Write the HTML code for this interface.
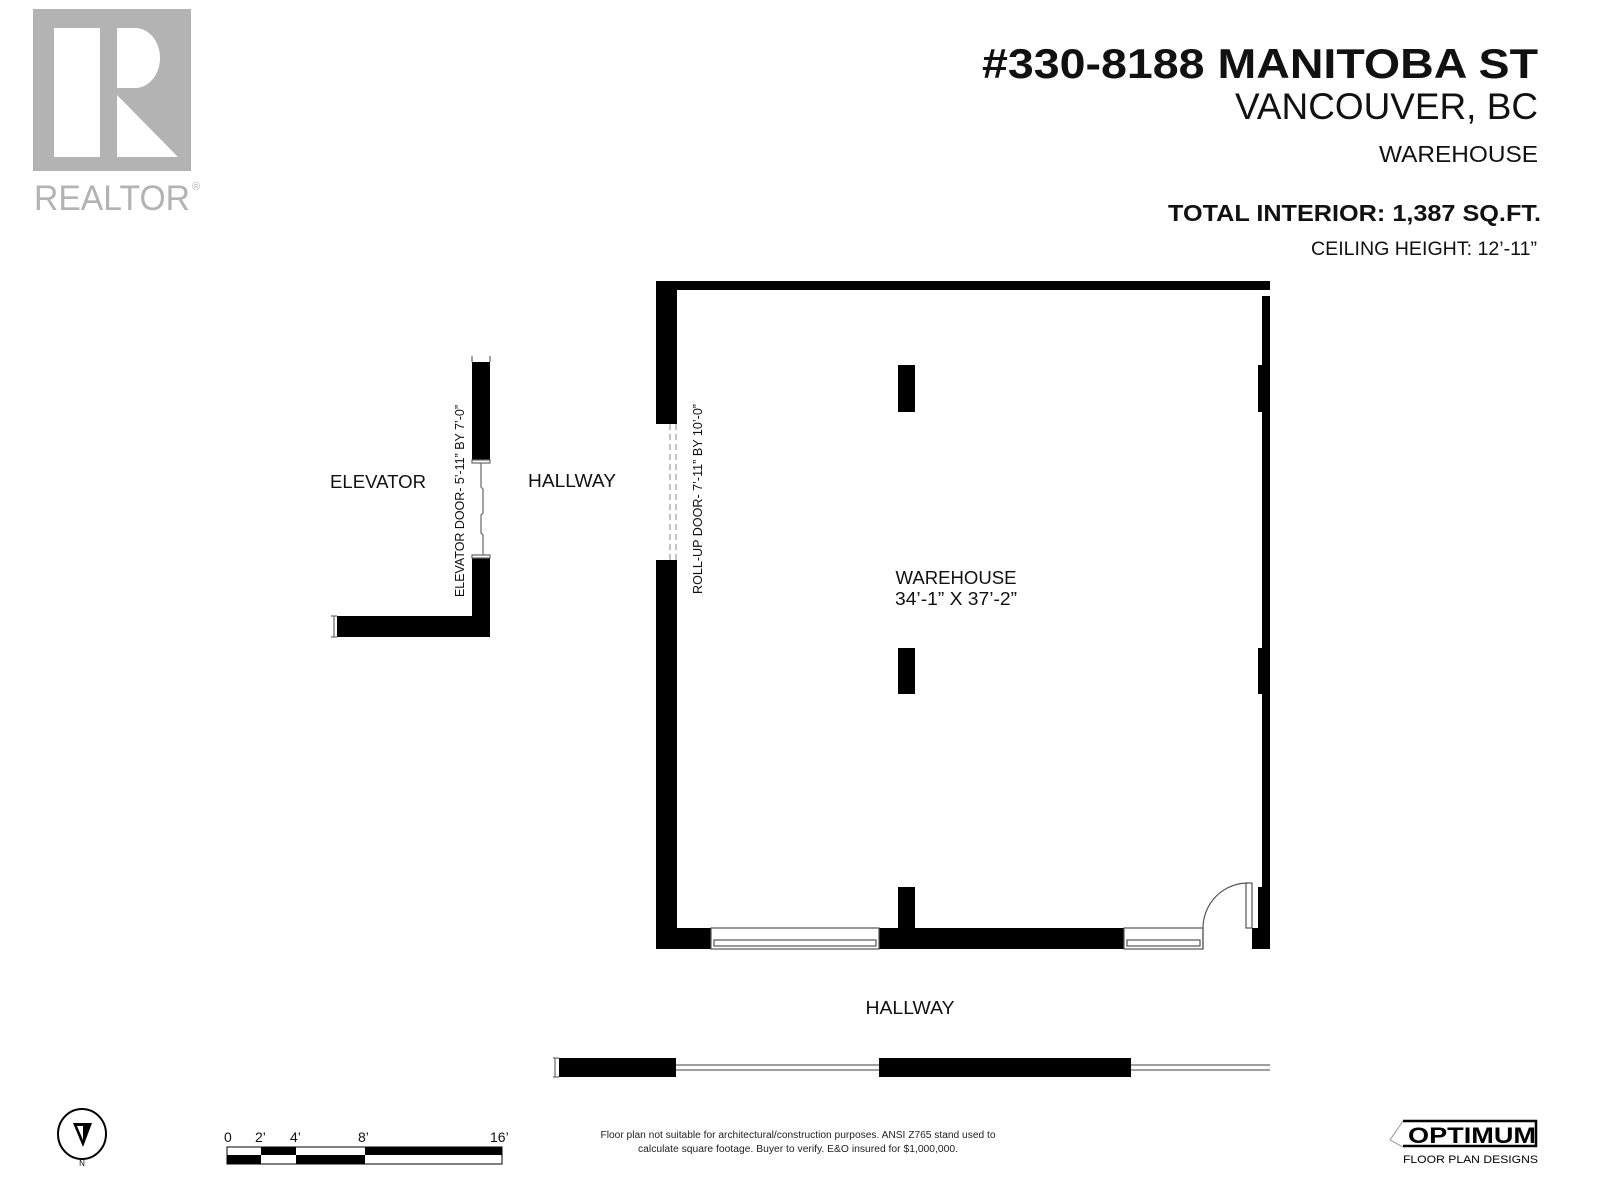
<!DOCTYPE html>
<html><head><meta charset="utf-8"><style>
html,body{margin:0;padding:0;background:#fff;}
svg{display:block;}
text{font-family:"Liberation Sans",sans-serif;}
</style></head><body>
<svg width="1600" height="1200" viewBox="0 0 1600 1200" xmlns="http://www.w3.org/2000/svg">
<!-- Realtor logo -->
<rect x="33" y="9" width="158" height="162" fill="#b3b3b3"/>
<rect x="54" y="28" width="46" height="129" fill="#fff"/>
<path d="M117 28 H135 A25 30 0 0 1 135 88 H117 Z" fill="#fff"/>
<path d="M117 95 L178 157 L117 157 Z" fill="#fff"/>
<text x="34" y="210" font-size="35" fill="#b3b3b3" textLength="156" lengthAdjust="spacingAndGlyphs">REALTOR</text>
<text x="192" y="190" font-size="11" fill="#b3b3b3">®</text>

<!-- Header -->
<text x="1538" y="78" font-size="42" font-weight="bold" text-anchor="end" textLength="556" lengthAdjust="spacingAndGlyphs" fill="#111">#330-8188 MANITOBA ST</text>
<text x="1538" y="119" font-size="37" text-anchor="end" textLength="303" lengthAdjust="spacingAndGlyphs" fill="#111">VANCOUVER, BC</text>
<text x="1538" y="162" font-size="23" text-anchor="end" textLength="159" lengthAdjust="spacingAndGlyphs" fill="#111">WAREHOUSE</text>
<text x="1541" y="221" font-size="23" font-weight="bold" text-anchor="end" textLength="373" lengthAdjust="spacingAndGlyphs" fill="#111">TOTAL INTERIOR:   1,387 SQ.FT.</text>
<text x="1537" y="255" font-size="19" text-anchor="end" textLength="226" lengthAdjust="spacingAndGlyphs" fill="#111">CEILING HEIGHT: 12’-11”</text>

<!-- Main room walls -->
<g fill="#000">
<rect x="656" y="281" width="614" height="9"/>
<rect x="656" y="281" width="21" height="143"/>
<rect x="656" y="560" width="21" height="389"/>
<rect x="1262" y="290" width="8" height="659"/>
<rect x="1258" y="365" width="12" height="47"/>
<rect x="1258" y="648" width="12" height="46"/>
<rect x="1258" y="887" width="12" height="62"/>
<rect x="656" y="928" width="55" height="21"/>
<rect x="879" y="928" width="245" height="21"/>
<rect x="1252" y="928" width="18" height="21"/>
<rect x="898" y="365" width="17" height="47"/>
<rect x="898" y="648" width="17" height="46"/>
<rect x="898" y="887" width="17" height="41"/>
</g>
<rect x="1262" y="290" width="8" height="6" fill="#fff"/>
<!-- roll-up door dashed -->
<g stroke="#888" stroke-width="1" stroke-dasharray="6,4">
<line x1="670" y1="424" x2="670" y2="560"/>
<line x1="676" y1="424" x2="676" y2="560"/>
</g>
<!-- windows bottom -->
<g fill="none" stroke="#555" stroke-width="1.2">
<rect x="711" y="928" width="168" height="21"/>
<rect x="714" y="940" width="162" height="6"/>
<rect x="1124" y="928" width="79" height="21"/>
<rect x="1127" y="940" width="73" height="6"/>
<rect x="1246" y="883" width="6" height="45"/>
<path d="M1203 949 V928 A45 45 0 0 1 1248 883"/>
</g>

<!-- Elevator walls -->
<g fill="#000">
<rect x="472" y="362" width="18" height="98"/>
<rect x="472" y="558" width="18" height="79"/>
<rect x="337" y="616" width="153" height="21"/>
</g>
<g fill="none" stroke="#666" stroke-width="1.2">
<line x1="472" y1="356" x2="472" y2="362"/><line x1="490" y1="356" x2="490" y2="362"/>
<line x1="331" y1="616" x2="337" y2="616"/><line x1="331" y1="637" x2="337" y2="637"/><line x1="334" y1="616" x2="334" y2="637"/>
<rect x="472" y="460" width="18" height="3"/>
<rect x="472" y="555" width="18" height="3"/>
<path d="M481 463 V487 L483 489 V513 L481 515 V533 L483 535 V555"/>
</g>

<!-- Bottom hallway wall -->
<g fill="#000">
<rect x="559" y="1058" width="117" height="19"/>
<rect x="879" y="1058" width="252" height="19"/>
</g>
<g stroke="#666" stroke-width="1.2" fill="none">
<line x1="676" y1="1065" x2="879" y2="1065"/><line x1="676" y1="1070" x2="879" y2="1070"/>
<line x1="1131" y1="1065" x2="1270" y2="1065"/><line x1="1131" y1="1070" x2="1270" y2="1070"/>
<line x1="553" y1="1058" x2="559" y2="1058"/><line x1="553" y1="1077" x2="559" y2="1077"/><line x1="555" y1="1058" x2="555" y2="1077"/>
</g>

<!-- Labels -->
<g fill="#111" font-size="18">
<text x="330" y="488" textLength="96" lengthAdjust="spacingAndGlyphs">ELEVATOR</text>
<text x="528" y="487" textLength="88" lengthAdjust="spacingAndGlyphs">HALLWAY</text>
<text x="956" y="584" text-anchor="middle" textLength="121" lengthAdjust="spacingAndGlyphs">WAREHOUSE</text>
<text x="956" y="605" text-anchor="middle" textLength="122" lengthAdjust="spacingAndGlyphs">34’-1” X 37’-2”</text>
<text x="910" y="1014" text-anchor="middle" textLength="89" lengthAdjust="spacingAndGlyphs">HALLWAY</text>
</g>
<text transform="translate(464,501) rotate(-90)" font-size="12.5" text-anchor="middle" fill="#111" textLength="192" lengthAdjust="spacingAndGlyphs">ELEVATOR DOOR- 5’-11” BY 7’-0”</text>
<text transform="translate(702,499) rotate(-90)" font-size="12.5" text-anchor="middle" fill="#111" textLength="190" lengthAdjust="spacingAndGlyphs">ROLL-UP DOOR- 7’-11” BY 10’-0”</text>

<!-- Compass -->
<ellipse cx="82" cy="1134" rx="24" ry="25" fill="none" stroke="#000" stroke-width="2"/>
<path d="M73 1123 L92 1123 L83 1147 Z" fill="#000"/>
<path d="M77 1126 L83 1126 L83 1140 Z" fill="#fff"/>
<text x="82" y="1166" font-size="8" text-anchor="middle" fill="#000">N</text>

<!-- Scale bar -->
<g font-size="14" fill="#111">
<text x="224" y="1142">0</text><text x="255" y="1142">2’</text><text x="290" y="1142">4’</text><text x="358" y="1142">8’</text><text x="490" y="1142">16’</text>
</g>
<rect x="227" y="1147" width="275" height="17" fill="#fff" stroke="#000" stroke-width="1"/>
<g fill="#000">
<rect x="261" y="1147" width="35" height="8"/><rect x="227" y="1155" width="34" height="9"/>
<rect x="296" y="1155" width="69" height="9"/><rect x="365" y="1147" width="137" height="8"/>
</g>

<!-- Disclaimer -->
<g font-size="10" fill="#222" text-anchor="middle">
<text x="798" y="1138" textLength="395" lengthAdjust="spacingAndGlyphs">Floor plan not suitable for architectural/construction purposes. ANSI Z765 stand used to</text>
<text x="798" y="1152" textLength="320" lengthAdjust="spacingAndGlyphs">calculate square footage. Buyer to verify.  E&amp;O insured for $1,000,000.</text>
</g>

<!-- Optimum logo -->
<g fill="none" stroke="#000" stroke-width="2.5">
<path d="M1403 1121 H1536 V1146 H1403"/>
</g>
<path d="M1403 1121 L1390 1140 L1403 1147" fill="none" stroke="#999" stroke-width="1"/>
<text x="1408" y="1143" font-size="22" font-weight="bold" fill="#000" textLength="128" lengthAdjust="spacingAndGlyphs">OPTIMUM</text>
<text x="1403" y="1163" font-size="11" fill="#000" textLength="135" lengthAdjust="spacingAndGlyphs">FLOOR PLAN DESIGNS</text>
</svg>
</body></html>
